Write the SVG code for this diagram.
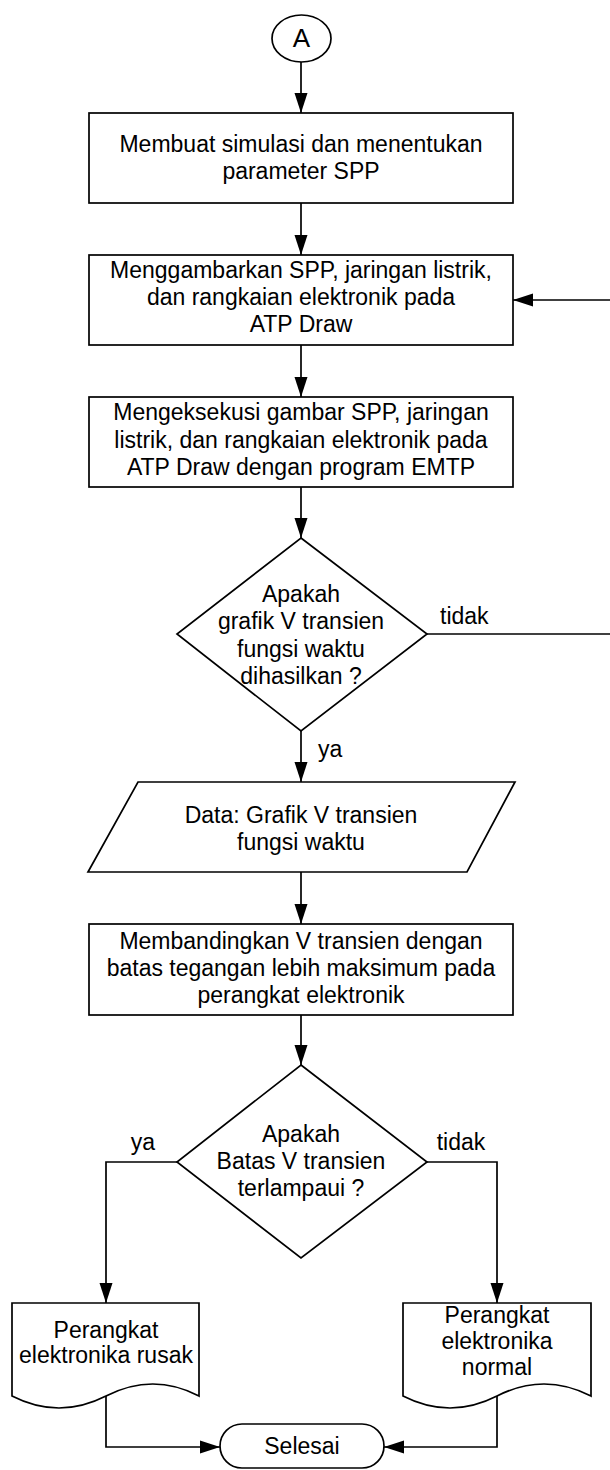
<svg xmlns="http://www.w3.org/2000/svg" width="610" height="1470" viewBox="0 0 610 1470">
  <defs>
    <marker id="arrow" markerUnits="userSpaceOnUse" markerWidth="20" markerHeight="14" refX="20" refY="7" orient="auto">
      <path d="M0,0.5 L20,7 L0,13.5 z" fill="#000"/>
    </marker>
    <style>
      .shape { fill: #fff; stroke: #000; stroke-width: 1.7; }
      .edge { fill: none; stroke: #000; stroke-width: 1.7; marker-end: url(#arrow); }
      .line { fill: none; stroke: #000; stroke-width: 1.7; }
      text { font-family: "Liberation Sans", Arial, sans-serif; font-size: 23px; fill: #000; }
      .c { text-anchor: middle; }
    </style>
  </defs>

  <rect width="610" height="1470" fill="#fff"/>

  <!-- connectors -->
  <g id="connectors">
    <path class="edge" d="M301,62 L301,113"/>
    <path class="edge" d="M301,203 L301,255"/>
    <path class="edge" d="M301,345 L301,397"/>
    <path class="edge" d="M301,487 L301,538"/>
    <path class="edge" d="M301,731 L301,782"/>
    <path class="edge" d="M301,872 L301,924"/>
    <path class="edge" d="M301,1015 L301,1065"/>
    <!-- "tidak" branch loops back to the drawing step -->
    <path class="line" d="M427,634 L612,634"/>
    <path class="edge" d="M612,300 L513,300"/>
    <path class="edge" d="M177,1162 L106,1162 L106,1303"/>
    <path class="edge" d="M427,1162 L497,1162 L497,1303"/>
    <path class="edge" d="M106,1396 L106,1447 L220,1447"/>
    <path class="edge" d="M497,1396 L497,1447 L384,1447"/>
    <text x="440" y="624">tidak</text>
    <text x="318" y="757">ya</text>
    <text class="c" x="143" y="1150">ya</text>
    <text class="c" x="461" y="1150">tidak</text>
  </g>

  <g id="start">
    <ellipse class="shape" cx="301.5" cy="38.5" rx="29.5" ry="23.5"/>
    <text class="c" x="301.5" y="47" style="font-size:26px">A</text>
  </g>

  <g id="step1">
    <rect class="shape" x="89" y="113" width="424" height="90"/>
    <text class="c" x="301" y="152">Membuat simulasi dan menentukan</text>
    <text class="c" x="301" y="179">parameter SPP</text>
  </g>

  <g id="step2">
    <rect class="shape" x="89" y="255" width="424" height="90"/>
    <text class="c" x="301" y="278">Menggambarkan SPP, jaringan listrik,</text>
    <text class="c" x="301" y="305">dan rangkaian elektronik pada</text>
    <text class="c" x="301" y="332">ATP Draw</text>
  </g>

  <g id="step3">
    <rect class="shape" x="89" y="397" width="424" height="90"/>
    <text class="c" x="301" y="420">Mengeksekusi gambar SPP, jaringan</text>
    <text class="c" x="301" y="448">listrik, dan rangkaian elektronik pada</text>
    <text class="c" x="301" y="475">ATP Draw dengan program EMTP</text>
  </g>

  <g id="decision1">
    <path class="shape" d="M301,538 L427,634 L301,731 L177,634 z"/>
    <text class="c" x="301" y="602">Apakah</text>
    <text class="c" x="301" y="629">grafik V transien</text>
    <text class="c" x="301" y="657">fungsi waktu</text>
    <text class="c" x="301" y="684">dihasilkan ?</text>
  </g>

  <g id="data">
    <path class="shape" d="M138,782 L515,782 L467,872 L88,872 z"/>
    <text class="c" x="301" y="823">Data: Grafik V transien</text>
    <text class="c" x="301" y="850">fungsi waktu</text>
  </g>

  <g id="step4">
    <rect class="shape" x="89" y="924" width="424" height="91"/>
    <text class="c" x="301" y="949">Membandingkan V transien dengan</text>
    <text class="c" x="301" y="976">batas tegangan lebih maksimum pada</text>
    <text class="c" x="301" y="1003">perangkat elektronik</text>
  </g>

  <g id="decision2">
    <path class="shape" d="M301,1065 L427,1162 L301,1258 L177,1162 z"/>
    <text class="c" x="301" y="1142">Apakah</text>
    <text class="c" x="301" y="1169">Batas V transien</text>
    <text class="c" x="301" y="1196">terlampaui ?</text>
  </g>

  <g id="result-rusak">
    <path class="shape" d="M12,1303 L199,1303 L199,1396 Q153,1372 106,1396 T12,1396 z"/>
    <text class="c" x="106" y="1338">Perangkat</text>
    <text class="c" x="106" y="1363">elektronika rusak</text>
  </g>

  <g id="result-normal">
    <path class="shape" d="M403,1303 L591,1303 L591,1396 Q544,1372 497,1396 T403,1396 z"/>
    <text class="c" x="497" y="1323">Perangkat</text>
    <text class="c" x="497" y="1349">elektronika</text>
    <text class="c" x="497" y="1375">normal</text>
  </g>

  <g id="end">
    <rect class="shape" x="220" y="1424" width="164" height="44" rx="22" ry="22"/>
    <text class="c" x="302" y="1454">Selesai</text>
  </g>
</svg>
